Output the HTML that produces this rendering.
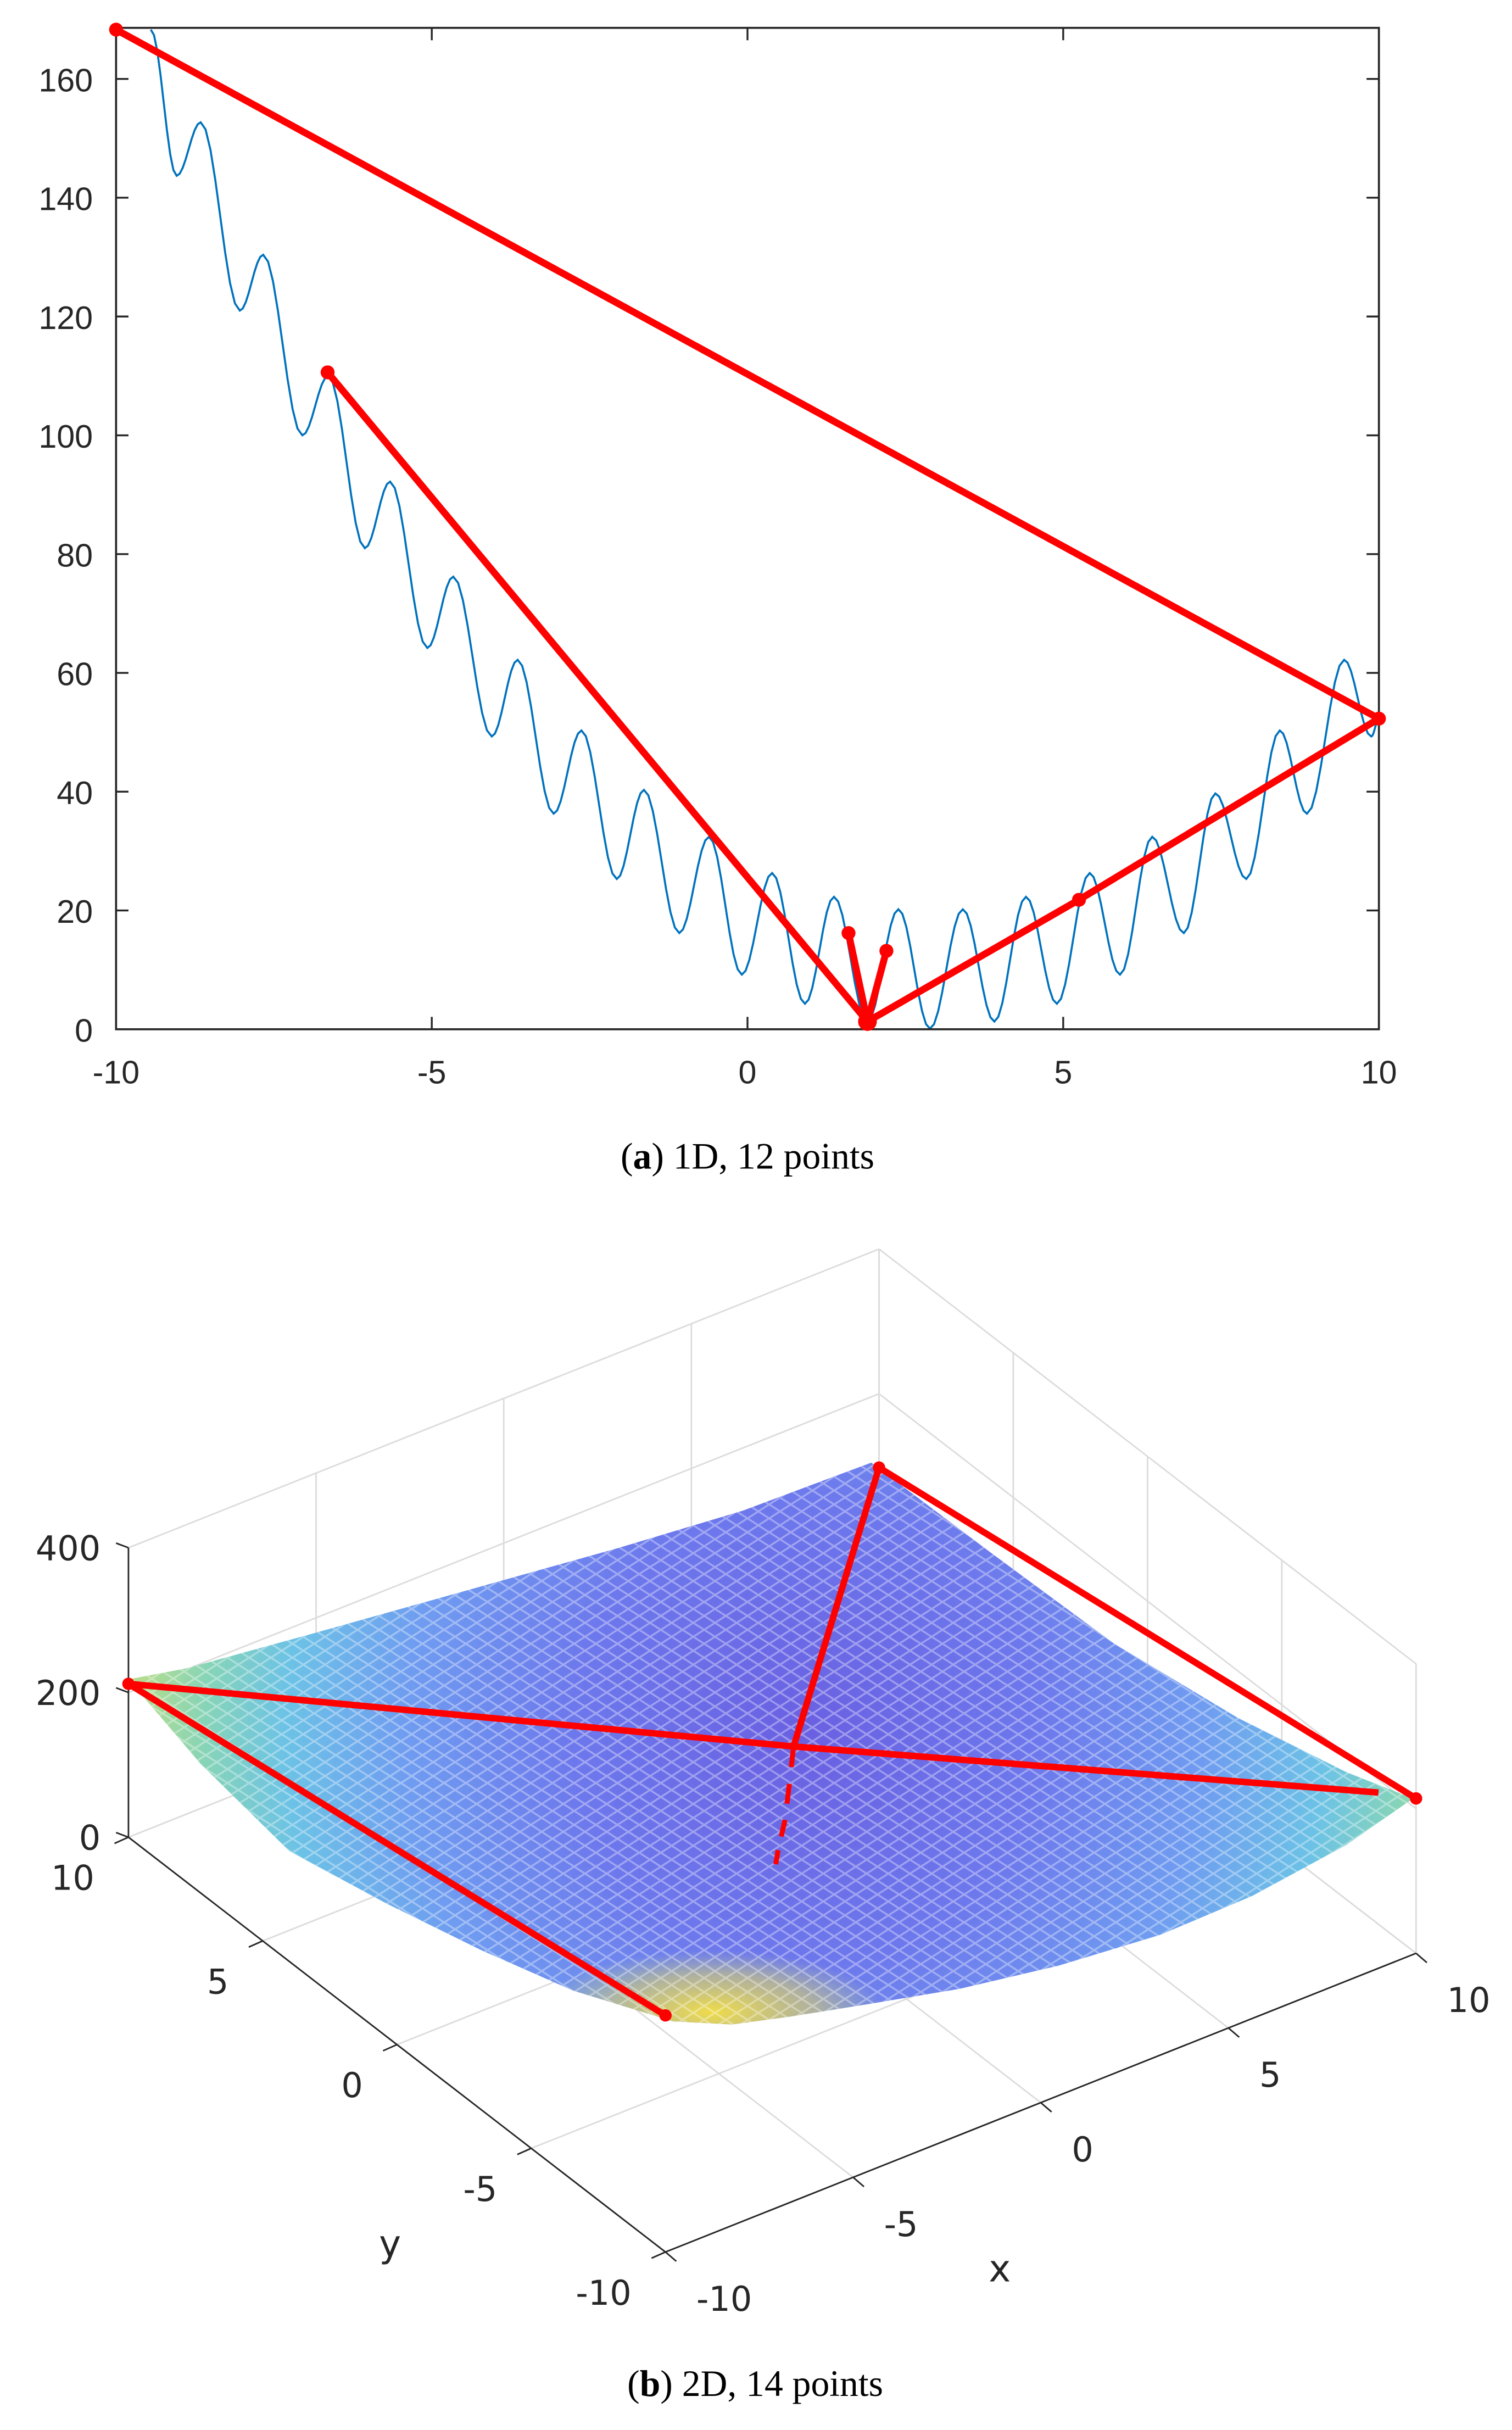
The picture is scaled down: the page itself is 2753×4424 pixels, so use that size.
<!DOCTYPE html>
<html><head><meta charset="utf-8"><style>
html,body{margin:0;padding:0;background:#fff;}
svg{display:block;}
</style></head><body>
<svg id="fig" xmlns="http://www.w3.org/2000/svg" width="2753" height="4424" viewBox="0 0 977 1570" preserveAspectRatio="none">
<defs>
<radialGradient id="surfGrad" gradientUnits="userSpaceOnUse" cx="520" cy="1120" r="430" fx="520" fy="1120">
<stop offset="0" stop-color="#6a60e2"/>
<stop offset="0.35" stop-color="#6d78ec"/>
<stop offset="0.6" stop-color="#6f9cf0"/>
<stop offset="0.78" stop-color="#6cc2e6"/>
<stop offset="0.9" stop-color="#86d4b8"/>
<stop offset="1" stop-color="#b4dc8e"/>
</radialGradient>
<radialGradient id="yellowGlow" gradientUnits="userSpaceOnUse" cx="460" cy="1300" r="80" gradientTransform="translate(460 1300) scale(1.4 0.5) translate(-460 -1300)">
<stop offset="0" stop-color="#f6e040" stop-opacity="0.95"/>
<stop offset="0.6" stop-color="#e4d860" stop-opacity="0.55"/>
<stop offset="1" stop-color="#c8e080" stop-opacity="0"/>
</radialGradient>
<pattern id="mesh" width="14" height="9" patternUnits="userSpaceOnUse">
<path d="M0 4.5 L7 0 L14 4.5 L7 9 Z" fill="none" stroke="#ffffff" stroke-opacity="0.35" stroke-width="1.2"/>
</pattern>
</defs>

<g id="chartA"></g>
<text x="483" y="755" text-anchor="middle" font-family="Liberation Serif, serif" font-size="24" fill="#000">(<tspan font-weight="bold">a</tspan>) 1D, 12 points</text>

<g id="chartB"></g>
<text x="488" y="1548" text-anchor="middle" font-family="Liberation Serif, serif" font-size="24" fill="#000">(<tspan font-weight="bold">b</tspan>) 2D, 14 points</text>
</svg>

<script>
// ---------- Chart (a) data ----------
const curveX = [-9.45,-9.04,-8.66,-8.04,-7.67,-7.05,-6.64,-6.06,-5.66,-5.07,-4.66,-4.05,-3.64,-3.07,-2.63,-2.07,-1.64,-1.08,-0.61,-0.09,0.39,0.91,1.37,1.90,2.39,2.89,3.41,3.91,4.41,4.90,5.42,5.90,6.41,6.91,7.41,7.90,8.43,8.86,9.45,9.88,10];
const curveY = [168.3,143.7,152.7,121,130.4,100,110,81,92.2,64.2,76.2,49.3,62.2,36.3,50.3,25.3,40.3,16.2,32.4,9.2,26.3,4.3,22.3,1.3,20.2,0.1,20.2,1.3,22.3,4.3,26.3,9.2,32.4,16.2,39.7,25.3,50.3,36.3,62.2,49.3,52.3];
const pathX = [-10,10,5.25,1.9,-6.65,1.9,1.6,1.9,2.2];
const pathY = [168.3,52.3,21.8,1.3,110.6,1.3,16.2,1.3,13.2];
const xTicks = [-10,-5,0,5,10];
const yTicks = [0,20,40,60,80,100,120,140,160];

// ---------- Chart (b) data ----------
const zTicks = [0,200,400];
const yTicks3 = [10,5,0,-5,-10];
const xTicks3 = [-10,-5,0,5,10];
const redX = [-10,2,10, 2,10,10, -10,-10, 2,1.6,1.2,0.8,0.47];
const redY = [10,2,-8.6, 2,10,-10, 10,-10, 2,1.6,1.2,0.9,0.6];
const redZ = [212,107,182, 107,98,214, 212,327, 107,75,45,20,0];

const NS = 'http://www.w3.org/2000/svg';
function mk(tag, attrs, parent){const e=document.createElementNS(NS,tag);for(const k in attrs)e.setAttribute(k,attrs[k]);parent.appendChild(e);return e;}

// ===== Chart A =====
(function(){
const g = document.getElementById('chartA');
const X = v => 75 + (v+10)*40.8;
const Y = v => 665 - v*3.8375;
const L = X(-10), R = X(10), T = 18, B = Y(0);
let d = '';
for(let i=0;i<curveX.length-1;i++){
  const x0=curveX[i],x1=curveX[i+1],y0=curveY[i],y1=curveY[i+1];
  for(let s=0;s<=8;s++){
    const t=s/8;
    const x=x0+(x1-x0)*t, y=y0+(y1-y0)*(1-Math.cos(Math.PI*t))/2;
    d += (d===''?'M':'L') + X(x).toFixed(2)+' '+Y(y).toFixed(2)+' ';
  }
}
const cp = mk('clipPath',{id:'clipA'},g); mk('rect',{x:L,y:T,width:R-L,height:B-T},cp);
const curve = mk('path',{d:d,fill:'none',stroke:'#0072bd','stroke-width':1.3,'clip-path':'url(#clipA)'},g);


const frame = mk('rect',{x:L,y:T,width:R-L,height:B-T,fill:'none',stroke:'#262626','stroke-width':1.3},g);


yTicks.forEach(v=>{
  mk('line',{x1:L,x2:L+8,y1:Y(v),y2:Y(v),stroke:'#262626','stroke-width':1.2},g);
  mk('line',{x1:R,x2:R-8,y1:Y(v),y2:Y(v),stroke:'#262626','stroke-width':1.2},g);
  const t = mk('text',{x:L-15,y:Y(v)+8,'text-anchor':'end','font-family':'Liberation Sans, sans-serif','font-size':21,fill:'#262626'},g);
  t.textContent = v;
  
  
});
xTicks.forEach(v=>{
  mk('line',{x1:X(v),x2:X(v),y1:B,y2:B-8,stroke:'#262626','stroke-width':1.2},g);
  mk('line',{x1:X(v),x2:X(v),y1:T,y2:T+8,stroke:'#262626','stroke-width':1.2},g);
  const t = mk('text',{x:X(v),y:B+35,'text-anchor':'middle','font-family':'Liberation Sans, sans-serif','font-size':21,fill:'#262626'},g);
  t.textContent = v;
  
  
});
let pd='';
pathX.forEach((x,i)=>{pd+=(i?'L':'M')+X(x).toFixed(2)+' '+Y(pathY[i]).toFixed(2)+' ';});
const rp = mk('path',{d:pd,fill:'none',stroke:'#ff0000','stroke-width':4.5,'stroke-linejoin':'round','stroke-linecap':'round'},g);


pathX.forEach((x,i)=>{
  const c = mk('circle',{cx:X(x),cy:Y(pathY[i]),r:(pathY[i]<2?6:4.5),fill:'#ff0000'},g);
  
  
});
})();

// ===== Chart B =====
(function(){
const g = document.getElementById('chartB');
const P = (x,y,z) => {const a=(x+10)/20,b=(y+10)/20;return [430+a*485-b*347, 1455-a*193-b*268-z*0.4675];};
const grid = '#dcdcdc';
function line(p,q,col,w,name){const l=mk('line',{x1:p[0],y1:p[1],x2:q[0],y2:q[1],stroke:col,'stroke-width':w},g);return l;}
[-10,-5,0,5,10].forEach(v=>{
  line(P(v,10,0),P(v,10,400),grid,1,'grid-line');
  line(P(10,v,0),P(10,v,400),grid,1,'grid-line');
  line(P(v,-10,0),P(v,10,0),grid,1,'grid-line');
  line(P(-10,v,0),P(10,v,0),grid,1,'grid-line');
});
[0,200,400].forEach(z=>{
  line(P(-10,10,z),P(10,10,z),grid,1,'grid-line');
  line(P(10,10,z),P(10,-10,z),grid,1,'grid-line');
});
const surfD = 'M83 1085 L120 1078 L200 1056 L300 1028 L400 1000 L480 976 L563 945 L640 1003 L720 1062 L800 1110 L870 1145 L913 1162 ' +
 'L870 1192 L809 1225 L750 1250 L684 1270 L620 1285 L560 1295 L510 1303 L473 1308 L435 1306 L370 1286 L311 1260 L250 1230 L187 1196 L130 1140 Z';
const surf = mk('path',{d:surfD,fill:'url(#surfGrad)'},g);


const glow = mk('path',{d:surfD,fill:'url(#yellowGlow)'},g);


const meshP = mk('path',{d:surfD,fill:'url(#mesh)'},g);


line(P(-10,10,0),P(-10,10,400),'#262626',1,'z-axis');
line(P(-10,10,0),P(-10,-10,0),'#262626',1,'y-axis');
line(P(-10,-10,0),P(10,-10,0),'#262626',1,'x-axis');
zTicks.forEach(z=>{
  const p=P(-10,10,z);
  line(p,[p[0]-8,p[1]-3],'#262626',1,'z-tick');
  const t=mk('text',{x:p[0]-18,y:p[1]+8,'text-anchor':'end','font-family':'DejaVu Sans, sans-serif','font-size':22,fill:'#262626'},g);
  t.textContent=z;
  
  
});
yTicks3.forEach(v=>{
  const p=P(-10,v,0);
  line(p,[p[0]-9,p[1]+4],'#262626',1,'y-tick');
  const t=mk('text',{x:p[0]-22,y:p[1]+34,'text-anchor':'end','font-family':'DejaVu Sans, sans-serif','font-size':22,fill:'#262626'},g);
  t.textContent=v;
  
  
});
xTicks3.forEach(v=>{
  const p=P(v,-10,0);
  line(p,[p[0]+7,p[1]+6],'#262626',1,'x-tick');
  const t=mk('text',{x:p[0]+20,y:p[1]+38,'text-anchor':'start','font-family':'DejaVu Sans, sans-serif','font-size':22,fill:'#262626'},g);
  t.textContent=v;
  
  
});
const yl=mk('text',{x:252,y:1458,'text-anchor':'middle','font-family':'DejaVu Sans, sans-serif','font-size':24,fill:'#262626'},g);
yl.textContent='y';


const xl=mk('text',{x:646,y:1474,'text-anchor':'middle','font-family':'DejaVu Sans, sans-serif','font-size':24,fill:'#262626'},g);
xl.textContent='x';


const segs = [[0,1,2],[3,4,5],[6,7]];
segs.forEach(s=>{
  let d='';
  s.forEach((k,i)=>{const p=P(redX[k],redY[k],redZ[k]);d+=(i?'L':'M')+p[0].toFixed(2)+' '+p[1].toFixed(2)+' ';});
  const pl=mk('path',{d:d,fill:'none',stroke:'#ff0000','stroke-width':4.2,'stroke-linejoin':'round'},g);
  
  
});
for(let k=8;k<redX.length-1;k++){
  const p=P(redX[k],redY[k],redZ[k]), q=P(redX[k+1],redY[k+1],redZ[k+1]);
  const m=[p[0]*0.45+q[0]*0.55,p[1]*0.45+q[1]*0.55];
  line(p,m,'#ff0000',3.2,'sample-tail-3d');
}
[0,4,5,7].forEach(k=>{
  const p=P(redX[k],redY[k],redZ[k]);
  const c=mk('circle',{cx:p[0],cy:p[1],r:4,fill:'#ff0000'},g);
  
  
});
})();
</script>
</body></html>
